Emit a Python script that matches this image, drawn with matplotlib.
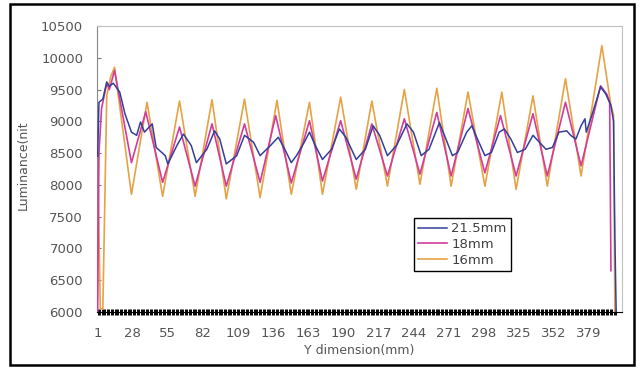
import matplotlib.pyplot as plt
from matplotlib.patches import Rectangle

# values (x in mm positions, y in nit)
x_215 = [1, 2, 5, 8, 10, 13, 18, 22, 27, 31, 34, 37, 43, 46, 53, 55, 62, 67, 73, 77,
         85, 91, 95, 100, 108, 114, 121, 126, 134, 140, 145, 150, 154, 160, 164, 168,
         174, 181, 187, 192, 200, 207, 213, 218, 224, 231, 239, 244, 250, 256, 264,
         269, 274, 278, 285, 289, 292, 299, 304, 310, 314, 319, 324, 330, 336, 341,
         346, 351, 356, 362, 365, 369, 373, 376, 377, 382, 388, 392, 396, 398, 399, 400]
lum_215 = [8450, 9300, 9350, 9620, 9550, 9600, 9460, 9120, 8830, 8780, 8990, 8830,
           8960, 8590, 8460, 8330, 8620, 8800, 8620, 8350, 8560, 8850, 8720, 8330,
           8460, 8780, 8670, 8460, 8620, 8750, 8560, 8350, 8460, 8670, 8830, 8640,
           8400, 8560, 8880, 8750, 8400, 8560, 8930, 8780, 8460, 8620, 8960, 8830,
           8460, 8560, 8980, 8720, 8460, 8510, 8830, 8930, 8780, 8460, 8510, 8830,
           8880, 8720, 8510, 8560, 8780, 8670, 8560, 8590, 8830, 8850, 8780, 8720,
           8930, 9040, 8830, 9140, 9540, 9430, 9250, 9000, 7200, 6000]

x_18 = [1, 2, 4, 8, 10, 14, 27, 38, 51, 64, 76, 89, 100, 114, 126, 138, 150, 164,
        174, 188, 200, 212, 224, 237, 249, 262, 273, 286, 299, 311, 323, 336, 347,
        361, 373, 388, 393, 395, 396]
lum_18 = [6000, 8500, 9200, 9600, 9500, 9800, 8350, 9150, 8040, 8910, 7980, 8960,
          7980, 8960, 8040, 9090, 8030, 9010, 8060, 9010, 8090, 8960, 8140, 9040,
          8170, 9140, 8140, 9200, 8190, 9090, 8140, 9120, 8140, 9300, 8300, 9560,
          9420, 9300, 6650]

x_16 = [1, 3, 5, 8, 11, 14, 27, 39, 51, 64, 76, 89, 100, 114, 126, 139, 150, 164,
        174, 188, 200, 212, 224, 237, 249, 262, 273, 286, 299, 312, 323, 336, 347,
        361, 373, 389, 396, 398, 399]
lum_16 = [8500, 6050, 6050, 9400, 9700, 9850, 7850, 9300, 7820, 9320, 7820, 9340,
          7780, 9350, 7800, 9330, 7850, 9300, 7850, 9380, 7930, 9320, 7980, 9500,
          8010, 9520, 7980, 9460, 7980, 9460, 7930, 9400, 7980, 9670, 8140, 10190,
          9250, 9100, 6000]

x_ticks = list(range(1, 380, 27))
y_ticks = list(range(6000, 10501, 500))

txt = '#555555'

fig = plt.figure(figsize=(6.4, 3.68), dpi=100)
ax = fig.add_axes([97 / 640, 56 / 368, 525 / 640, 286 / 368])

ax.plot(x_16, lum_16, color='#E6A245', lw=1.2, label='16mm', zorder=2)
ax.plot(x_18, lum_18, color='#D23C9A', lw=1.2, label='18mm', zorder=3)
ax.plot(x_215, lum_215, color='#33409A', lw=1.1, label='21.5mm', zorder=4)

ax.set_xlim(0.5, 404.5)
ax.set_ylim(6000, 10500)
ax.set_xticks(x_ticks)
ax.set_xticks(range(1, 401), minor=True)
ax.set_yticks(y_ticks)

ax.tick_params(axis='x', which='both', direction='inout', length=4, width=0.7,
               color='black', labelsize=9.5, labelcolor=txt, pad=9)
ax.tick_params(axis='y', direction='in', length=3, color='#777777',
               labelsize=9.5, labelcolor=txt, pad=10)

ax.spines['left'].set_color('#888888')
ax.spines['bottom'].set_color('black')
ax.spines['top'].set_color('#c0c0c0')
ax.spines['right'].set_color('#c0c0c0')

ax.set_xlabel('Y dimension(mm)', fontsize=9, color=txt, labelpad=3)
fig.text(23 / 640, 1 - 165 / 368, 'Luminance(nit', rotation=90, fontsize=9,
         color=txt, ha='center', va='center')

handles, labels = ax.get_legend_handles_labels()
leg = ax.legend(handles[::-1], labels[::-1], loc='lower left',
                bbox_to_anchor=(0.592, 0.122), fontsize=9.5, handlelength=2.2,
                handletextpad=0.3, borderpad=0.3, labelspacing=0.2,
                fancybox=False, framealpha=1, edgecolor='black')
leg.get_frame().set_linewidth(1)
for t in leg.get_texts():
    t.set_color('#404040')

# outer frame of the picture
fig.patches.append(Rectangle((10 / 640, 3 / 368), 624 / 640, 361 / 368,
                             transform=fig.transFigure, fill=False,
                             edgecolor='black', lw=1.8))

plt.savefig('out.png')
